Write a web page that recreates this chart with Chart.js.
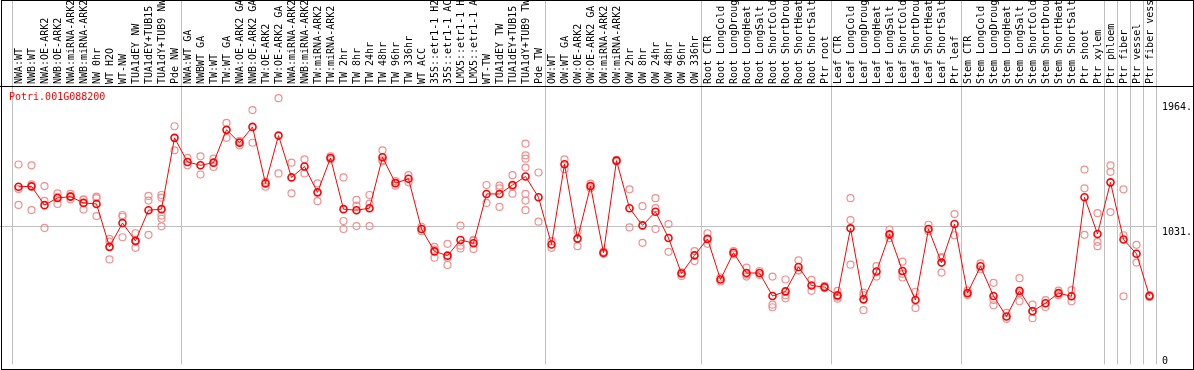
<!DOCTYPE html>
<html>
<head>
<meta charset="utf-8">
<script src="https://cdn.jsdelivr.net/npm/chart.js@4.4.0/dist/chart.umd.min.js"></script>
<style>
  body { margin: 0; background: #fff; }
  .wrap { position: relative; width: 1194px; height: 370px; }
  #gene { position: absolute; left: 9px; top: 91px; font: 10px/12px "DejaVu Sans Mono", monospace; color: #ff0000; }
</style>
</head>
<body>
<div class="wrap">
  <canvas id="chart" width="1194" height="370"></canvas>
  <div id="gene">Potri.001G088200</div>
</div>
<script>
// sample names, left to right
const categories = [
  'NWA:WT', 'NWB:WT', 'NWA:OE-ARK2', 'NWB:OE-ARK2', 'NWA:miRNA-ARK2', 'NWB:miRNA-ARK2',
  'NW 0hr', 'WT H2O', 'WT-NW', 'TUA1dEY NW', 'TUA1dEY+TUB15 NW', 'TUA1dY+TUB9 NW', 'Pde NW',
  'NWA:WT GA', 'NWBWT GA', 'TW:WT', 'TW:WT GA', 'NWA:OE-ARK2 GA', 'NWB:OE-ARK2 GA',
  'TW:OE-ARK2', 'TW:OE-ARK2 GA', 'NWA:miRNA-ARK2', 'NWB:miRNA-ARK2', 'TW:miRNA-ARK2',
  'TW:miRNA-ARK2', 'TW 2hr', 'TW 8hr', 'TW 24hr', 'TW 48hr', 'TW 96hr', 'TW 336hr',
  'WT ACC', '35S::etr1-1 H2O', '35S::etr1-1 ACC', 'LMX5::etr1-1 H2O', 'LMX5::etr1-1 ACC',
  'WT-TW', 'TUA1dEY TW', 'TUA1dEY+TUB15 TW', 'TUA1dY+TUB9 TW', 'Pde TW',
  'OW:WT', 'OW:WT GA', 'OW:OE-ARK2', 'OW:OE-ARK2 GA', 'OW:miRNA-ARK2', 'OW:miRNA-ARK2',
  'OW 2hr', 'OW 8hr', 'OW 24hr', 'OW 48hr', 'OW 96hr', 'OW 336hr',
  'Root CTR', 'Root LongCold', 'Root LongDrought', 'Root LongHeat', 'Root LongSalt',
  'Root ShortCold', 'Root ShortDrought', 'Root ShortHeat', 'Root ShortSalt', 'Ptr root',
  'Leaf CTR', 'Leaf LongCold', 'Leaf LongDrought', 'Leaf LongHeat', 'Leaf LongSalt',
  'Leaf ShortCold', 'Leaf ShortDrought', 'Leaf ShortHeat', 'Leaf ShortSalt', 'Ptr leaf',
  'Stem CTR', 'Stem LongCold', 'Stem LongDrought', 'Stem LongHeat', 'Stem LongSalt',
  'Stem ShortCold', 'Stem ShortDrought', 'Stem ShortHeat', 'Stem ShortSalt', 'Ptr shoot',
  'Ptr xylem', 'Ptr phloem', 'Ptr fiber', 'Ptr vessel', 'Ptr fiber vessel'
];

// mean expression per sample
const meanValues = [
  1333, 1336, 1195, 1249, 1259, 1212, 1204, 882, 1061, 927, 1157, 1165, 1700,
  1519, 1494, 1514, 1760, 1663, 1782, 1358, 1717, 1403, 1485, 1291, 1549,
  1165, 1157, 1172, 1554, 1360, 1393, 1016, 848, 816, 934, 909, 1279, 1279, 1346, 1410, 1254,
  900, 1502, 944, 1338, 838, 1529, 1172, 1043, 1145, 949, 682, 818,
  942, 637, 838, 686, 686, 513, 548, 731, 592, 580,
  518, 1021, 488, 697, 976, 701, 483, 1016, 764, 1053,
  535, 736, 513, 359, 552, 399, 459, 535, 511, 1254,
  979, 1366, 937, 830, 513
];

// individual replicates per sample
const replicates = [
  [1500, 1316, 1197], [1494, 1351, 1158], [1338, 1227, 1024], [1284, 1258, 1204],
  [1279, 1262, 1239], [1237, 1237, 1162], [1259, 1247, 1113], [942, 922, 788],
  [1121, 1108, 954], [984, 922, 875], [1264, 1229, 972], [1271, 1251, 1117, 1093, 1036],
  [1787, 1606],
  [1549, 1494], [1561, 1425], [1544, 1482], [1812, 1700], [1678, 1668, 1643], [1908, 1663],
  [1370, 1333], [1998, 1433], [1514, 1284], [1539, 1433], [1358, 1225], [1561, 1539],
  [1403, 1076, 1016], [1234, 1192, 1038], [1271, 1207, 1038], [1606, 1532, 1524],
  [1375, 1341], [1420, 1366], [1033, 999], [882, 861, 801], [905, 801, 746],
  [1041, 891, 870], [934, 929, 865], [1346, 1212], [1341, 1321, 1182], [1420, 1337, 1281],
  [1656, 1569, 1544, 1477, 1279, 1229, 1157], [1440, 1071],
  [925, 875], [1539, 1465], [999, 887], [1356, 1321], [846, 830], [1535, 1523],
  [1314, 1028], [1187, 912], [1247, 1172, 1016], [1053, 845], [690, 664], [850, 775],
  [984, 905], [652, 622], [850, 826], [726, 673, 659], [701, 672], [659, 448, 429],
  [637, 518, 496], [781, 706, 706], [634, 552], [590, 573],
  [552, 508, 493], [1247, 1083, 748], [538, 519, 407], [738, 659], [1011, 970, 947],
  [771, 680, 652], [545, 424], [1048, 999], [805, 798, 689], [1128, 969],
  [553, 520], [758, 714], [612, 483, 444], [387, 342], [647, 535, 474], [448, 402, 347],
  [483, 431], [553, 518], [558, 474], [1462, 1321, 972],
  [1135, 920, 887], [1494, 1445, 1143], [1314, 969, 511], [897, 764], [520, 505]
];

const yTicks = [0, 1031, 1964];
const yMax = 2089;
// grid line index = left edge of that sample (88 = right edge)
const groupLines = [0, 13, 41, 53, 63, 73, 84, 85, 86, 87, 88];

const grey = '#c0c0c0';
const red = '#ff0000';
const pink = '#f09090';

Chart.defaults.font.family = '"DejaVu Sans Mono", monospace';
Chart.defaults.font.size = 10;
Chart.defaults.color = '#000';

const maxReps = Math.max(...replicates.map(r => r.length));
const repSets = [];
for (let k = 0; k < maxReps; k++) {
  repSets.push({
    label: 'rep ' + (k + 1),
    data: replicates.map(r => (r[k] === undefined ? null : r[k])),
    showLine: false,
    pointRadius: 3.5,
    pointBorderWidth: 1.2,
    pointBorderColor: pink,
    pointBackgroundColor: 'rgba(0,0,0,0)',
    order: 1
  });
}

// outer box and header line
const framePlugin = {
  id: 'frame',
  afterDraw(chart) {
    const ctx = chart.ctx;
    const top = chart.chartArea.top;
    ctx.save();
    ctx.strokeStyle = '#000';
    ctx.lineWidth = 1;
    ctx.strokeRect(1.5, 0.5, chart.width - 2, chart.height - 1);
    ctx.beginPath();
    ctx.moveTo(0, top + 0.5);
    ctx.lineTo(chart.width, top + 0.5);
    ctx.stroke();
    ctx.restore();
  }
};

new Chart(document.getElementById('chart'), {
  type: 'line',
  data: {
    labels: categories,
    datasets: [
      {
        label: 'mean',
        data: meanValues,
        borderColor: red,
        borderWidth: 1,
        pointRadius: 3.5,
        pointBorderWidth: 1.6,
        pointBorderColor: red,
        pointBackgroundColor: 'rgba(0,0,0,0)',
        tension: 0,
        order: 0
      },
      ...repSets
    ]
  },
  options: {
    responsive: false,
    animation: false,
    layout: { padding: { bottom: 3 } },
    plugins: {
      legend: { display: false },
      tooltip: { enabled: false }
    },
    scales: {
      x: {
        position: 'top',
        offset: true,
        grid: {
          offset: true,
          tickLength: 86,
          color: (ctx) => (ctx.index === undefined || groupLines.includes(ctx.index)) ? grey : 'rgba(0,0,0,0)'
        },
        border: { color: '#000' },
        ticks: {
          autoSkip: false,
          minRotation: 90,
          maxRotation: 90,
          padding: -84,
          labelOffset: 13
        },
        afterFit: (scale) => {
          scale.height = 86;
          scale.paddingLeft = 0;
          scale.paddingRight = 0;
        }
      },
      y: {
        position: 'right',
        min: 0,
        max: yMax,
        afterBuildTicks: (scale) => { scale.ticks = yTicks.map(v => ({ value: v })); },
        grid: {
          drawTicks: false,
          color: (ctx) => (ctx.tick && ctx.tick.value === 1031) ? grey : 'rgba(0,0,0,0)'
        },
        border: { display: false },
        ticks: {
          align: 'start',
          padding: 6,
          font: { lineHeight: 0.8 },
          callback: (v) => (v === 0 ? ['0', '', ''] : v + '.')
        },
        afterFit: (scale) => {
          scale.width = 38;
          scale.paddingTop = 0;
          scale.paddingBottom = 0;
        }
      },
      yl: {
        position: 'left',
        min: 0,
        max: yMax,
        afterBuildTicks: (scale) => { scale.ticks = [{ value: 1031 }]; },
        grid: { drawOnChartArea: false, tickLength: 12, color: grey },
        border: { display: false },
        ticks: { display: false },
        afterFit: (scale) => {
          scale.width = 12;
          scale.paddingTop = 0;
          scale.paddingBottom = 0;
        }
      }
    }
  },
  plugins: [framePlugin]
});
</script>
</body>
</html>
